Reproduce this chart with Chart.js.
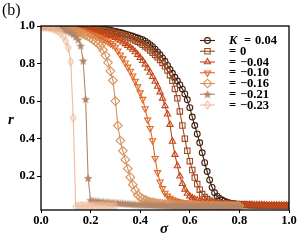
<!DOCTYPE html>
<html><head><meta charset="utf-8">
<script src="https://cdn.jsdelivr.net/npm/chart.js@4"></script>
<style>html,body{margin:0;padding:0;background:#fff}#wrap{width:303px;height:241px}</style>
</head><body><div id="wrap"><canvas id="c" width="303" height="241"></canvas></div>
<script>
// sigma grid (x values)
const sigma = [0.00,0.01,0.02,0.03,0.04,0.05,0.06,0.07,0.08,0.09,0.10,0.11,0.12,0.13,0.14,0.15,0.16,0.17,0.18,0.19,0.20,0.21,0.22,0.23,0.24,0.25,0.26,0.27,0.28,0.29,0.30,0.31,0.32,0.33,0.34,0.35,0.36,0.37,0.38,0.39,0.40,0.41,0.42,0.43,0.44,0.45,0.46,0.47,0.48,0.49,0.50,0.51,0.52,0.53,0.54,0.55,0.56,0.57,0.58,0.59,0.60,0.61,0.62,0.63,0.64,0.65,0.66,0.67,0.68,0.69,0.70,0.71,0.72,0.73,0.74,0.75,0.76,0.77,0.78,0.79,0.80,0.81,0.82,0.83,0.84,0.85,0.86,0.87,0.88,0.89,0.90,0.91,0.92,0.93,0.94,0.95,0.96,0.97,0.98,0.99,1.00];

const kLabels = ['0.04', '0', '\u22120.04', '\u22120.10', '\u22120.16', '\u22120.21', '\u22120.23'];

// r values, K = 0.04
const rKp004 = [1.000,1.000,1.000,1.000,0.999,0.999,0.999,0.999,0.999,0.998,0.998,
0.998,0.997,0.997,0.996,0.996,0.995,0.994,0.993,0.992,0.991,
0.990,0.988,0.987,0.985,0.983,0.981,0.979,0.977,0.974,0.971,
0.968,0.965,0.962,0.958,0.954,0.950,0.946,0.941,0.936,0.931,
0.927,0.919,0.910,0.901,0.890,0.877,0.862,0.847,0.830,0.812,
0.790,0.768,0.748,0.727,0.707,0.686,0.664,0.638,0.607,0.565,
0.515,0.470,0.425,0.378,0.325,0.272,0.225,0.180,0.140,0.112,
0.094,0.082,0.073,0.067,0.062,0.058,0.055,0.053,0.051,0.050,
0.049,0.048,0.048,0.047,0.047,0.046,0.046,0.045,0.045,0.045,
0.044,0.044,0.044,0.043,0.043,0.043,0.043,0.042,0.042,0.042];

// K = 0
const rK0 = [1.000,1.000,1.000,0.999,0.999,0.999,0.999,0.998,0.998,0.998,0.997,
0.997,0.996,0.995,0.995,0.994,0.993,0.992,0.991,0.989,0.988,
0.986,0.984,0.982,0.980,0.978,0.975,0.972,0.969,0.966,0.962,
0.958,0.954,0.950,0.945,0.940,0.935,0.929,0.923,0.916,0.909,
0.900,0.891,0.881,0.870,0.858,0.846,0.833,0.819,0.803,0.785,
0.763,0.738,0.708,0.665,0.615,0.545,0.470,0.400,0.335,0.280,
0.233,0.193,0.158,0.128,0.105,0.089,0.078,0.070,0.064,0.060,
0.057,0.055,0.053,0.052,0.051,0.050,0.049,0.048,0.048,0.047,
0.047,0.046,0.046,0.046,0.045,0.045,0.045,0.044,0.044,0.044,
0.044,0.043,0.043,0.043,0.043,0.043,0.042,0.042,0.042,0.042];

// K = -0.04
const rKm004 = [1.000,1.000,1.000,0.999,0.999,0.999,0.998,0.998,0.997,0.996,0.995,
0.994,0.993,0.992,0.990,0.989,0.987,0.985,0.983,0.981,0.978,
0.976,0.973,0.970,0.966,0.962,0.958,0.954,0.949,0.944,0.938,
0.930,0.923,0.914,0.905,0.895,0.886,0.875,0.862,0.848,0.832,
0.815,0.796,0.775,0.753,0.730,0.705,0.678,0.648,0.615,0.575,
0.530,0.475,0.385,0.315,0.255,0.200,0.160,0.130,0.108,0.094,
0.084,0.077,0.072,0.068,0.065,0.062,0.060,0.058,0.057,0.055,
0.054,0.053,0.052,0.052,0.051,0.051,0.050,0.050,0.049,0.049,
0.049,0.048,0.048,0.048,0.048,0.047,0.047,0.047,0.047,0.047,
0.046,0.046,0.046,0.046,0.046,0.046,0.045,0.045,0.045,0.045];

// K = -0.10 (sigma 0 .. 0.80)
const rKm010 = [1.000,1.000,0.999,0.999,0.998,0.997,0.996,0.995,0.994,0.992,0.990,
0.988,0.986,0.984,0.981,0.978,0.975,0.971,0.967,0.963,0.958,
0.953,0.948,0.942,0.936,0.929,0.922,0.915,0.907,0.898,0.888,
0.868,0.847,0.826,0.804,0.782,0.760,0.735,0.707,0.677,0.645,
0.610,0.560,0.500,0.455,0.390,0.295,0.220,0.170,0.135,0.110,
0.095,0.083,0.075,0.070,0.066,0.063,0.061,0.059,0.057,0.056,
0.054,0.053,0.052,0.051,0.050,0.050,0.049,0.048,0.048,0.047,
0.047,0.046,0.046,0.046,0.045,0.045,0.045,0.044,0.044,0.044];

// K = -0.16 (sigma 0 .. 0.80)
const rKm016 = [1.000,1.000,0.999,0.999,0.998,0.997,0.996,0.994,0.992,0.990,0.988,
0.985,0.982,0.978,0.974,0.969,0.964,0.958,0.951,0.944,0.936,
0.927,0.917,0.906,0.893,0.872,0.843,0.805,0.760,0.710,0.600,
0.470,0.390,0.335,0.288,0.240,0.195,0.155,0.125,0.100,0.088,
0.080,0.074,0.068,0.064,0.061,0.058,0.056,0.054,0.053,0.052,
0.051,0.050,0.049,0.049,0.048,0.048,0.047,0.047,0.046,0.046,
0.046,0.045,0.045,0.045,0.044,0.044,0.044,0.044,0.043,0.043,
0.043,0.043,0.042,0.042,0.042,0.042,0.042,0.041,0.041,0.041];

// K = -0.21 (sigma 0 .. 0.80)
const rKm021 = [1.000,0.999,0.999,0.998,0.997,0.995,0.993,0.990,0.987,0.983,0.978,
0.972,0.965,0.956,0.944,0.928,0.895,0.815,0.610,0.190,0.072,
0.069,0.067,0.066,0.064,0.063,0.062,0.061,0.060,0.059,0.058,
0.057,0.056,0.055,0.054,0.053,0.052,0.051,0.050,0.050,0.049,
0.048,0.048,0.047,0.047,0.046,0.046,0.045,0.045,0.045,0.044,
0.044,0.044,0.043,0.043,0.043,0.043,0.042,0.042,0.042,0.042,
0.041,0.041,0.041,0.041,0.041,0.040,0.040,0.040,0.040,0.040,
0.040,0.039,0.039,0.039,0.039,0.039,0.039,0.038,0.038,0.038];

// K = -0.23 (sigma 0 .. 0.30)
const rKm023 = [0.998,0.997,0.995,0.993,0.990,0.986,0.981,0.974,0.962,0.945,0.920,
0.885,0.810,0.510,0.038,0.040,0.041,0.042,0.042,0.042,0.042,
0.042,0.041,0.041,0.041,0.040,0.040,0.040,0.039,0.039,0.039];

const series = [rKp004, rK0, rKm004, rKm010, rKm016, rKm021, rKm023];
const xTicks = [0.0, 0.2, 0.4, 0.6, 0.8, 1.0];
const yTicks = [0.2, 0.4, 0.6, 0.8, 1.0];

const colors = ['#41200f', '#9e4b25', '#c2481a', '#dd6a2a', '#d6925a', '#b3876a', '#efbd9c'];

function starCanvas(color) {
  const c = document.createElement('canvas'); c.width = 10; c.height = 10;
  const g = c.getContext('2d'); g.fillStyle = color; g.beginPath();
  for (let k = 0; k < 10; k++) {
    const a = -Math.PI / 2 + k * Math.PI / 5, rr = (k % 2 === 0) ? 4.6 : 2.0;
    const px = 5 + rr * Math.cos(a), py = 5.4 + rr * Math.sin(a);
    k === 0 ? g.moveTo(px, py) : g.lineTo(px, py);
  }
  g.closePath(); g.fill(); return c;
}
function thinDiamondCanvas(color) {
  const c = document.createElement('canvas'); c.width = 8; c.height = 10;
  const g = c.getContext('2d'); g.strokeStyle = color; g.lineWidth = 1.1; g.beginPath();
  g.moveTo(4, 1); g.lineTo(6.7, 5); g.lineTo(4, 9); g.lineTo(1.3, 5); g.closePath(); g.stroke();
  return c;
}
const markers = [
  {style: 'circle', radius: 2.9, rot: 0},
  {style: 'rect', radius: 3.8, rot: 0},
  {style: 'triangle', radius: 3.6, rot: 0},
  {style: 'triangle', radius: 3.6, rot: 180},
  {style: 'rectRot', radius: 4.3, rot: 0},
  {style: starCanvas(colors[5]), radius: 3, rot: 0},
  {style: thinDiamondCanvas(colors[6]), radius: 3, rot: 0}
];

const datasets = series.map((r, i) => ({
  label: kLabels[i],
  data: r.map((v, j) => ({x: sigma[j], y: v})),
  showLine: true,
  borderColor: colors[i],
  backgroundColor: 'rgba(0,0,0,0)',
  borderWidth: 1.1,
  tension: 0,
  pointStyle: markers[i].style,
  pointRadius: markers[i].radius,
  pointHoverRadius: markers[i].radius,
  pointRotation: markers[i].rot,
  pointBorderColor: colors[i],
  pointBackgroundColor: 'rgba(0,0,0,0)',
  pointBorderWidth: 1.1,
  clip: 0,
  order: series.length - 1 - i
}));

const serif = '"Liberation Serif", "Times New Roman", serif';

const decor = {
  id: 'decor',
  afterDatasetsDraw(chart) {
    const ctx = chart.ctx, a = chart.chartArea;
    ctx.save();
    // frame
    ctx.strokeStyle = '#000'; ctx.lineWidth = 1.3;
    ctx.strokeRect(a.left, a.top, a.right - a.left, a.bottom - a.top);
    // legend
    const x0 = 200, x1 = 215, xm = 207.5, tx = 229;
    for (let i = 0; i < series.length; i++) {
      const y = 40.5 + i * 10.75;
      ctx.strokeStyle = colors[i]; ctx.lineWidth = 1.1;
      ctx.beginPath(); ctx.moveTo(x0, y); ctx.lineTo(x1, y); ctx.stroke();
      ctx.fillStyle = 'rgba(0,0,0,0)';
      Chart.helpers.drawPoint(ctx, {pointStyle: markers[i].style, rotation: markers[i].rot, radius: markers[i].radius, borderWidth: 1.1}, xm, y);
      ctx.fillStyle = '#000'; ctx.textBaseline = 'middle'; ctx.textAlign = 'left';
      let xs = tx;
      if (i === 0) {
        ctx.font = 'italic bold 12.5px ' + serif;
        ctx.fillText('K', xs, y + 0.5);
        xs = tx + 15;
      }
      ctx.font = 'bold 12.5px ' + serif;
      ctx.fillText('=', xs, y + 0.5);
      ctx.fillText(kLabels[i], xs + 11, y + 0.5);
    }
    // panel tag and axis titles
    ctx.fillStyle = '#000';
    ctx.font = '16px ' + serif; ctx.textAlign = 'left'; ctx.textBaseline = 'middle';
    ctx.fillText('(b)', 2, 11);
    ctx.font = 'italic bold 15px ' + serif; ctx.textAlign = 'center';
    ctx.fillText('\u03c3', 164, 229);
    ctx.fillText('r', 11, 120);
    ctx.restore();
  }
};

const tickFont = {family: serif, size: 12.5, weight: 'bold'};
new Chart(document.getElementById('c'), {
  type: 'scatter',
  data: {datasets},
  options: {
    animation: false, responsive: false, devicePixelRatio: 1,
    layout: {padding: {left: 0, right: 14, top: 26, bottom: 0}},
    plugins: {legend: {display: false}, tooltip: {enabled: false}},
    events: [],
    scales: {
      x: {
        type: 'linear', min: 0, max: 1,
        afterFit(s) { s.height = 31; },
        afterBuildTicks(s) { s.ticks = xTicks.map(v => ({value: v})); },
        ticks: {callback: v => v.toFixed(1), font: tickFont, color: '#000', padding: 0, maxRotation: 0, autoSkip: false},
        grid: {drawOnChartArea: false, drawTicks: true, tickLength: 3, color: '#000', lineWidth: 1},
        border: {display: false}
      },
      y: {
        type: 'linear', min: 0.02, max: 1.0,
        afterFit(s) { s.width = 41; },
        afterBuildTicks(s) { s.ticks = yTicks.map(v => ({value: v})); },
        ticks: {callback: v => v.toFixed(1), font: tickFont, color: '#000', padding: 2, autoSkip: false},
        grid: {drawOnChartArea: false, drawTicks: true, tickLength: 4, color: '#000', lineWidth: 1},
        border: {display: false}
      }
    }
  },
  plugins: [decor]
});
</script>
</body></html>
